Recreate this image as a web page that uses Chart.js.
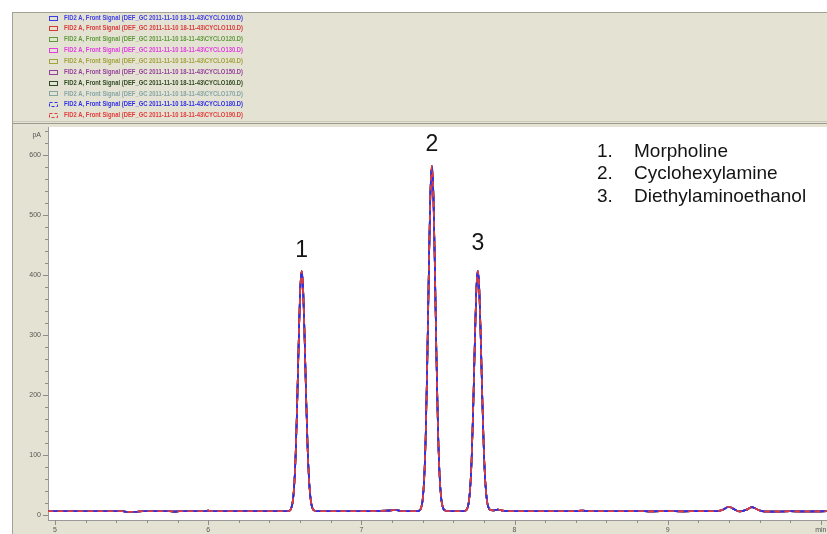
<!DOCTYPE html>
<html>
<head>
<meta charset="utf-8">
<script src="https://cdn.jsdelivr.net/npm/chart.js@4"></script>
<style>
  html, body { margin: 0; padding: 0; background: #ffffff; }
  canvas { display: block; }
</style>
</head>
<body>
<canvas id="chrom" width="827" height="534"></canvas>
<script>
// FID2 A front signal, retention time in minutes
const retentionTime = [
  4.95, 5.20, 5.44, 5.47, 5.53, 5.57, 5.75, 5.78, 5.81, 5.97, 6.00, 6.03, 6.21, 6.24, 6.27, 6.50,
  6.53, 6.54, 6.55, 6.56, 6.57, 6.58, 6.59, 6.60, 6.61, 6.62, 6.63, 6.64, 6.65, 6.66, 6.67, 6.68, 6.69, 6.72,
  7.05, 7.10, 7.17, 7.22, 7.26, 7.30, 7.36,
  7.38, 7.39, 7.40, 7.41, 7.42, 7.43, 7.44, 7.45, 7.46, 7.47, 7.48, 7.49, 7.50, 7.51, 7.52, 7.53, 7.54, 7.57, 7.62, 7.66,
  7.68, 7.69, 7.70, 7.71, 7.72, 7.73, 7.74, 7.75, 7.76, 7.77, 7.78, 7.79, 7.80, 7.81, 7.82, 7.83, 7.84, 7.86, 7.89, 7.92, 7.97,
  8.40, 8.44, 8.48, 8.70, 8.80, 8.90, 9.00, 9.10, 9.20, 9.32,
  9.36, 9.40, 9.44, 9.47, 9.51, 9.55, 9.59, 9.63, 9.70, 9.80, 9.90, 10.04
];

// detector response, pA
const signalPA = [
  6.5, 6.5, 6.5, 5.6, 5.8, 6.5, 6.5, 5.9, 6.5, 6.5, 7.6, 6.5, 6.5, 7.5, 6.5, 6.5,
  7.5, 10.4, 19.7, 44, 94.5, 177.5, 280.5, 371, 407, 375, 290, 190, 105, 52, 24, 12, 8, 6.5,
  6.5, 7.0, 7.6, 8.6, 7.0, 6.5, 6.5,
  8, 12, 25.5, 60.6, 133, 252, 400.7, 530, 582, 536, 412, 266, 146, 70, 31, 15, 9, 7, 6.5, 6.5,
  7.5, 10.4, 19.7, 44, 94.5, 177.5, 280.5, 371, 407, 375, 290, 190, 105, 52, 24, 13, 9, 8, 9.6, 7.6, 6.5,
  6.5, 7.8, 6.5, 6.5, 6.9, 6.3, 6.8, 6.3, 6.8, 6.5,
  9, 14, 9, 6.2, 8.5, 13.5, 9, 6.2, 6.0, 6.5, 6.2, 6.5
];

// replicate injections
const runIds = ['CYCLO100', 'CYCLO110', 'CYCLO120', 'CYCLO130', 'CYCLO140',
                'CYCLO150', 'CYCLO160', 'CYCLO170', 'CYCLO180', 'CYCLO190'];
const runColors = ['#3c3ce6', '#d83a3a', '#5e9a3c', '#e03ee0', '#a3a23c',
                   '#94409c', '#2f4a22', '#86a6a6', '#2e2ee8', '#e23c3c'];
const dashedRuns = ['CYCLO180', 'CYCLO190'];

// axes
const xMajorTicks = [5, 6, 7, 8, 9, 10];
const xTickLabels = ['5', '6', '7', '8', '9', 'min'];
const yMajorTicks = [0, 100, 200, 300, 400, 500, 600];
const yTickLabels = ['0', '100', '200', '300', '400', '500', '600'];

// peak identification
const peakNumbers = ['1', '2', '3'];
const peakTimes = [6.61, 7.46, 7.76];
const compoundNames = ['Morpholine', 'Cyclohexylamine', 'Diethylaminoethanol'];

const FONT = '"Liberation Sans", Arial, sans-serif';
const BEIGE = '#e4e2d2';

function withMinors(majors, parts, extraAbove) {
  const out = [];
  for (let i = 0; i < majors.length; i++) {
    out.push({ value: majors[i] });
    const next = i + 1 < majors.length ? majors[i + 1] : (extraAbove ? majors[i] + (majors[i] - majors[i - 1]) : null);
    if (next === null) continue;
    const step = (next - majors[i]) / parts;
    for (let k = 1; k < parts; k++) out.push({ value: Math.round((majors[i] + k * step) * 1000) / 1000 });
  }
  return out;
}

// window frame and legend panel behind the plot
const framePlugin = {
  id: 'frame',
  beforeDraw(chart) {
    const { ctx, chartArea: a, width, height } = chart;
    ctx.save();
    ctx.fillStyle = '#ffffff';
    ctx.fillRect(0, 0, width, height);
    ctx.fillStyle = BEIGE;
    ctx.fillRect(12, 12, width - 12, height - 12);
    ctx.fillStyle = '#a4a297';
    ctx.fillRect(12, 12, width - 12, 1);
    ctx.fillRect(12, 12, 1, height - 12);
    ctx.fillStyle = '#cac8ba';
    ctx.fillRect(13, 121, width - 13, 1);
    ctx.fillStyle = '#9c9a8f';
    ctx.fillRect(13, 123, width - 13, 1);
    ctx.fillStyle = '#ffffff';
    ctx.fillRect(a.left, a.top, a.right - a.left, a.bottom - a.top);
    ctx.restore();
  }
};

// major / minor tick marks outside the plot
const tickMarks = {
  id: 'tickMarks',
  afterDraw(chart) {
    const { ctx } = chart;
    const xs = chart.scales.x, ys = chart.scales.y;
    ctx.save();
    ctx.strokeStyle = '#8c8c8c';
    ctx.lineWidth = 1;
    ctx.beginPath();
    ys.ticks.forEach(t => {
      const py = Math.round(ys.getPixelForValue(t.value)) + 0.5;
      const len = yMajorTicks.includes(t.value) ? 5 : 3;
      ctx.moveTo(ys.right - len, py);
      ctx.lineTo(ys.right, py);
    });
    xs.ticks.forEach(t => {
      const px = Math.round(xs.getPixelForValue(t.value)) + 0.5;
      const len = xMajorTicks.includes(t.value) ? 5 : 3;
      ctx.moveTo(px, xs.top);
      ctx.lineTo(px, xs.top + len);
    });
    ctx.stroke();
    ctx.restore();
  }
};

// signal list in the header panel
const runLegend = {
  id: 'runLegend',
  afterDraw(chart) {
    const ctx = chart.ctx;
    ctx.save();
    ctx.font = 'bold 7.5px ' + FONT;
    ctx.textBaseline = 'middle';
    ctx.textAlign = 'left';
    chart.data.datasets.forEach((ds, i) => {
      const cy = 17.5 + i * 10.85;
      ctx.strokeStyle = ds.borderColor;
      ctx.lineWidth = 1;
      ctx.setLineDash(ds.borderDash.length ? [3, 2] : []);
      ctx.strokeRect(49.5, Math.round(cy - 2) + 0.5, 8, 4);
      ctx.setLineDash([]);
      ctx.fillStyle = ds.borderColor;
      ctx.fillText(ds.label, 64, cy, 179);
    });
    ctx.restore();
  }
};

// peak numbers, compound key and unit label
const annotations = {
  id: 'annotations',
  afterDraw(chart, args, opts) {
    const { ctx } = chart;
    const xs = chart.scales.x, ys = chart.scales.y;
    ctx.save();
    ctx.fillStyle = '#141414';
    ctx.textAlign = 'center';
    ctx.textBaseline = 'middle';
    ctx.font = '23px ' + FONT;
    peakNumbers.forEach((n, i) => {
      const k = retentionTime.indexOf(peakTimes[i]);
      const px = xs.getPixelForValue(peakTimes[i]);
      const py = ys.getPixelForValue(signalPA[k]) - opts.labelLift[i];
      ctx.fillText(n, px, py);
    });
    ctx.textAlign = 'left';
    ctx.textBaseline = 'alphabetic';
    ctx.font = '19px ' + FONT;
    compoundNames.forEach((name, i) => {
      const by = 157 + i * 22.3;
      ctx.fillText(peakNumbers[i] + '.', 597, by);
      ctx.fillText(name, 634, by);
    });
    ctx.font = '7px ' + FONT;
    ctx.fillStyle = '#555555';
    ctx.textAlign = 'right';
    ctx.textBaseline = 'middle';
    ctx.fillText('pA', 41, 135);
    ctx.restore();
  }
};

const drawOrder = [3, 4, 5, 6, 7, 8, 9, 10, 2, 1];

new Chart(document.getElementById('chrom'), {
  type: 'line',
  data: {
    datasets: runIds.map((id, i) => ({
      label: 'FID2 A, Front Signal (DEF_GC 2011-11-10 18-11-43\\' + id + '.D)',
      data: retentionTime.map((t, k) => ({ x: t, y: signalPA[k] })),
      borderColor: runColors[i],
      borderWidth: 1.6,
      borderDash: dashedRuns.includes(id) ? [6, 4] : [],
      borderDashOffset: id === 'CYCLO180' ? 5 : 0,
      order: drawOrder[i],
      pointRadius: 0,
      fill: false,
      cubicInterpolationMode: 'monotone'
    }))
  },
  options: {
    responsive: false,
    animation: false,
    events: [],
    layout: { autoPadding: false, padding: { top: 127, left: 0, right: 0, bottom: 0 } },
    plugins: {
      legend: { display: false },
      tooltip: { enabled: false },
      annotations: { labelLift: [20, 21, 27] }
    },
    scales: {
      x: {
        type: 'linear',
        min: 4.954,
        max: 10.04,
        afterBuildTicks: s => { s.ticks = withMinors(xMajorTicks, 5, false); },
        afterFit: s => { s.height = 14; s.paddingLeft = 0; s.paddingRight = 0; },
        grid: { display: false, tickLength: 5 },
        border: { display: true, color: '#9a9a9a', width: 1 },
        ticks: {
          autoSkip: false,
          maxRotation: 0,
          padding: 1,
          color: '#555555',
          font: { size: 7, family: FONT },
          callback: v => { const i = xMajorTicks.indexOf(v); return i >= 0 ? xTickLabels[i] : ''; }
        }
      },
      y: {
        min: -8,
        max: 647,
        afterBuildTicks: s => { s.ticks = withMinors(yMajorTicks, 5, true).filter(t => t.value <= 647); },
        afterFit: s => { s.width = 48; s.paddingTop = 0; s.paddingBottom = 0; },
        grid: { display: false, tickLength: 6 },
        border: { display: true, color: '#9a9a9a', width: 1 },
        ticks: {
          autoSkip: false,
          padding: 1,
          color: '#555555',
          font: { size: 7, family: FONT },
          callback: v => { const i = yMajorTicks.indexOf(v); return i >= 0 ? yTickLabels[i] : ''; }
        }
      }
    }
  },
  plugins: [framePlugin, tickMarks, runLegend, annotations]
});
</script>
</body>
</html>
